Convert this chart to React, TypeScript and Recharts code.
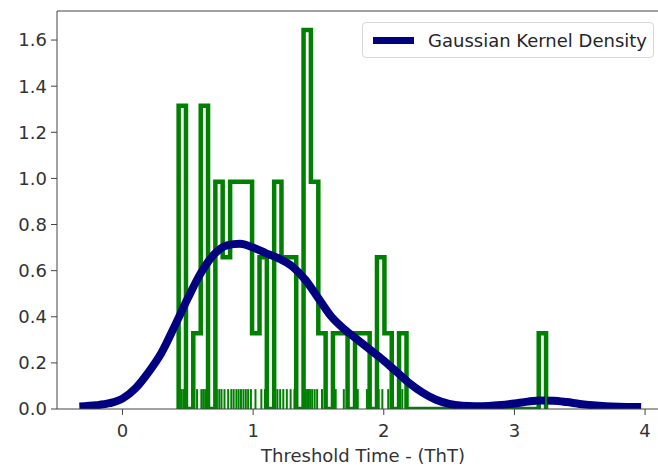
import React from "react";
import {
	ComposedChart,
	Line,
	XAxis,
	YAxis,
	ReferenceLine,
	Legend
} from "recharts";

// histogram bin edges (Threshold Time) and density heights
const binEdges = [
	0.43, 0.486, 0.542, 0.599, 0.655, 0.711, 0.767, 0.824, 0.88, 0.936, 0.992,
	1.049, 1.105, 1.161, 1.217, 1.274, 1.33, 1.386, 1.442, 1.499, 1.555, 1.611,
	1.667, 1.723, 1.78, 1.836, 1.892, 1.948, 2.005, 2.061, 2.117, 2.174, 2.23,
	2.286, 2.343, 2.399, 2.455, 2.511, 2.568, 2.624, 2.68, 2.736, 2.793, 2.849,
	2.905, 2.961, 3.018, 3.074, 3.13, 3.186, 3.242
];
const binHeights = [
	1.315, 0, 0.329, 1.315, 0, 0.986, 0.658, 0.986, 0.986, 0.986, 0.329, 0.658,
	0, 0.986, 0.658, 0.658, 0, 1.644, 0.986, 0.329, 0, 0.329, 0.329, 0, 0.329,
	0.329, 0, 0.658, 0.329, 0, 0.329, 0, 0, 0, 0, 0, 0, 0, 0, 0, 0, 0, 0, 0, 0,
	0, 0, 0, 0, 0.329
];

// gaussian kernel density curve
const kdeX = [
	-0.33, -0.2, -0.1, 0, 0.1, 0.2, 0.3, 0.4, 0.5, 0.6, 0.7, 0.8, 0.9, 1.0, 1.1,
	1.2, 1.3, 1.4, 1.5, 1.6, 1.7, 1.8, 1.9, 2.0, 2.1, 2.2, 2.3, 2.4, 2.5, 2.6,
	2.7, 2.8, 2.9, 3.0, 3.1, 3.2, 3.3, 3.4, 3.5, 3.6, 3.7, 3.8, 3.9, 3.97
];
const kdeY = [
	0.011, 0.016, 0.025, 0.045, 0.09, 0.16, 0.245, 0.36, 0.48, 0.59, 0.67, 0.71,
	0.717, 0.7, 0.675, 0.652, 0.618, 0.56, 0.48, 0.4, 0.345, 0.3, 0.255, 0.21,
	0.16, 0.11, 0.07, 0.04, 0.022, 0.014, 0.012, 0.013, 0.017, 0.024, 0.032,
	0.037, 0.036, 0.03, 0.022, 0.016, 0.012, 0.01, 0.009, 0.009
];

// rug: individual observations
const rugValues = [
	0.43, 0.452, 0.466, 0.479, 0.571, 0.604, 0.618, 0.633, 0.648, 0.722, 0.741,
	0.758, 0.781, 0.809, 0.833, 0.851, 0.872, 0.889, 0.907, 0.926, 0.944, 0.962,
	0.983, 1.018, 1.063, 1.091, 1.168, 1.186, 1.207, 1.231, 1.258, 1.287, 1.316,
	1.392, 1.403, 1.414, 1.425, 1.437, 1.452, 1.471, 1.49, 1.527, 1.632, 1.694,
	1.801, 1.871, 1.961, 1.989, 2.034, 2.142, 3.242
];

const xTicks = [0, 1, 2, 3, 4];
const yTicks = [0, 0.2, 0.4, 0.6, 0.8, 1.0, 1.2, 1.4, 1.6];

const histData = [{ x: binEdges[0], y: 0 }]
	.concat(binHeights.map((h, i) => ({ x: binEdges[i], y: h })))
	.concat([{ x: binEdges[binEdges.length - 1], y: 0 }]);

const kdeData = kdeX.map((x, i) => ({ x, y: kdeY[i] }));

const FONT = "'DejaVu Sans', sans-serif";
const AXIS = "#444";
const RUG_H = 0.0863;
const Y_MAX = 1.726;

const LegendBox = (props: any) => {
	const items = (props.payload || []).filter((p: any) => p.type !== "none");
	return (
		<div
			style={{
				border: "1px solid #d6d6d6",
				borderRadius: 4,
				background: "rgba(255,255,255,0.85)",
				padding: "0 6px 0 10px",
				fontFamily: FONT,
				fontSize: 18,
				color: "#262626",
				boxSizing: "border-box",
				height: 36,
				display: "inline-flex",
				alignItems: "center",
				whiteSpace: "nowrap"
			}}
		>
			{items.map((p: any) => (
				<div key={p.value} style={{ display: "flex", alignItems: "center" }}>
					<span
						style={{
							display: "inline-block",
							width: 41,
							height: 7,
							background: p.color,
							marginRight: 14
						}}
					/>
					<span>{p.value}</span>
				</div>
			))}
		</div>
	);
};

const App = () => {
	return (
		<div
			style={{
				position: "fixed",
				left: 0,
				top: 0,
				width: 658,
				height: 467,
				overflow: "hidden",
				background: "#fff"
			}}
		>
			<ComposedChart
				width={700}
				height={467}
				margin={{ top: 11, right: 31, bottom: 0, left: 0 }}
				style={{ fontFamily: FONT }}
			>
				<XAxis
					type="number"
					dataKey="x"
					domain={[-0.501, 4.183]}
					ticks={xTicks}
					allowDataOverflow
					height={58}
					tickSize={6}
					tickMargin={9}
					stroke={AXIS}
					tick={{ fontSize: 18, fill: "#333", fontFamily: FONT }}
					label={{
						value: "Threshold Time - (ThT)",
						position: "insideBottom",
						offset: 5,
						fontSize: 18,
						fill: "#333",
						fontFamily: FONT
					}}
				/>
				<YAxis
					type="number"
					domain={[0, Y_MAX]}
					ticks={yTicks}
					allowDataOverflow
					width={57}
					tickSize={6}
					tickMargin={4}
					stroke={AXIS}
					tickFormatter={(v: number) => v.toFixed(1)}
					tick={{ fontSize: 18, fill: "#333", fontFamily: FONT }}
				/>
				<ReferenceLine y={Y_MAX} stroke={AXIS} strokeWidth={1} />
				<Line
					data={histData}
					dataKey="y"
					type="stepAfter"
					stroke="#008000"
					strokeWidth={4.5}
					strokeLinejoin="miter"
					dot={false}
					activeDot={false}
					legendType="none"
					isAnimationActive={false}
				/>
				<Line
					data={kdeData}
					dataKey="y"
					name="Gaussian Kernel Density"
					type="monotone"
					stroke="#000080"
					strokeWidth={8}
					dot={false}
					activeDot={false}
					legendType="line"
					isAnimationActive={false}
				/>
				{rugValues.map((v, i) => (
					<ReferenceLine
						key={i}
						segment={[
							{ x: v, y: 0 },
							{ x: v, y: RUG_H }
						]}
						stroke="#008000"
						strokeWidth={2}
					/>
				))}
				<Legend
					layout="vertical"
					align="center"
					verticalAlign="middle"
					content={<LegendBox />}
					wrapperStyle={{ left: 362, top: 22, width: 310 }}
				/>
			</ComposedChart>
		</div>
	);
};

export default App;
